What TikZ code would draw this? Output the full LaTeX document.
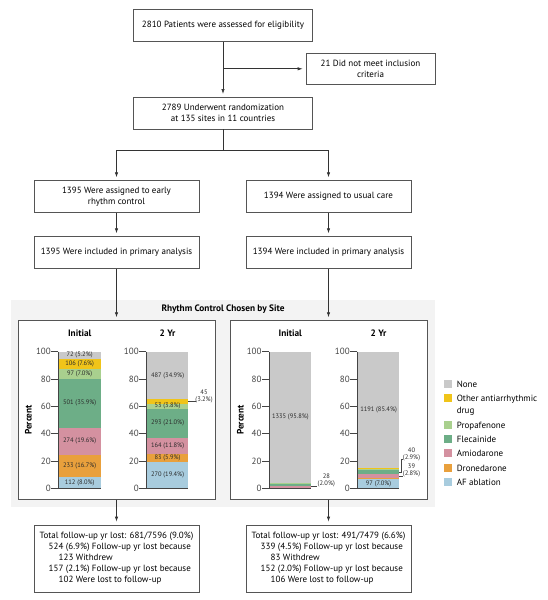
\documentclass[tikz,border=0pt]{standalone}
\usepackage{fontspec}
\setmainfont{PT Sans}
\usetikzlibrary{arrows.meta}
\definecolor{cnone}{HTML}{C9C9C9}
\definecolor{cother}{HTML}{F0C419}
\definecolor{cprop}{HTML}{A9D08E}
\definecolor{cflec}{HTML}{6DAE87}
\definecolor{camio}{HTML}{D491A0}
\definecolor{cdron}{HTML}{E9A03C}
\definecolor{cabl}{HTML}{A8CCDE}
\definecolor{boxc}{HTML}{555555}
\definecolor{linec}{HTML}{333333}
\definecolor{axc}{HTML}{444444}
\definecolor{labc}{HTML}{2A2A2A}
\definecolor{panelc}{HTML}{F3F3F3}
\newcommand\fnine{\fontsize{9}{11}\selectfont}
\newcommand\fbot{\fontsize{9}{11}\selectfont}
\newcommand\fsml{\fontsize{6.5}{7.5}\selectfont}
\newcommand\faxis{\fontsize{9}{10}\selectfont}
\newcommand\ftitle{\fontsize{9.3}{11}\selectfont}
% bar segment: left x, from %, to %, colour
\newcommand\barseg[4]{\fill[#4] ({#1},{488.3-1.366*(#2)}) rectangle ({#1+41.7},{488.3-1.366*(#3)});}
% bar label: left x, centre %, text
\newcommand\barlab[3]{\node[blab] at ({#1+20.85},{488.3-1.366*(#2)}) {#3};}
% axis: axis x
\newcommand\chartaxis[1]{%
  \draw[axl] (#1,351.7) -- (#1,488.3) -- ({#1+42.2},488.3);
  \foreach \v in {0,20,40,60,80,100} {%
    \draw[axl] ({#1-7},{488.3-1.366*\v}) -- (#1,{488.3-1.366*\v});
    \node[alab,anchor=east] at ({#1-7.3},{488.3-1.366*\v}) {\v};
  }%
}
\begin{document}
\begin{tikzpicture}[x=1pt,y=-1pt,
  fbox/.style={draw=boxc, line width=0.7pt, fill=white, minimum height=32pt, inner sep=0pt, align=center, font=\fnine},
  arr/.style={draw=linec, line width=0.7pt, -{Latex[length=5pt,width=3.4pt]}, shorten >=3pt},
  cbox/.style={draw=boxc, line width=0.8pt, fill=white, minimum width=197pt, minimum height=178.6pt, inner sep=0pt},
  axl/.style={draw=axc, line width=0.6pt},
  alab/.style={font=\faxis, inner sep=0pt, text=axc},
  blab/.style={font=\fsml, inner sep=0pt, text=labc, align=center},
  ttl/.style={font=\ftitle\bfseries, inner sep=0pt},
  leadl/.style={draw=axc, line width=0.5pt},
  legt/.style={font=\fnine, anchor=base west, inner sep=0pt},
]
\useasboundingbox (0,0) rectangle (547,600);

% flow chart
\node[fbox, minimum width=178.6pt] (b1) at (223,25.3) {2810 Patients were assessed for eligibility};
\node[fbox, minimum width=129pt, minimum height=31pt] (ex) at (370.5,68.8) {21 Did not meet inclusion\\criteria};
\node[fbox, minimum width=178.6pt, minimum height=31.7pt] (b2) at (223,113.2) {2789 Underwent randomization\\at 135 sites in 11 countries};
\node[fbox, minimum width=165pt] (b3L) at (116.5,196.7) {1395 Were assigned to early\\rhythm control};
\node[fbox, minimum width=165pt] (b3R) at (328.5,196.7) {1394 Were assigned to usual care};
\node[fbox, minimum width=165pt] (b4L) at (116.5,252.7) {1395 Were included in primary analysis};
\node[fbox, minimum width=165pt] (b4R) at (328.5,252.7) {1394 Were included in primary analysis};

\draw[arr] (b1.south) -- (b2.north);
\draw[arr] (b1.south |- ex.west) -- (ex.west);
\coordinate (sp) at (223,150);
\draw[arr] (b2.south) -- (sp) -| (b3L.north);
\draw[arr] (sp) -| (b3R.north);
\draw[arr] (b3L.south) -- (b4L.north);
\draw[arr] (b3R.south) -- (b4R.north);

% panel
\fill[panelc] (10.5,300) rectangle (435,507);
\node[ttl] (ptitle) at (223,309.5) {Rhythm Control Chosen by Site};
\node[cbox] (cbL) at (116.5,410.0) {};
\node[cbox] (cbR) at (328.5,410.0) {};
\draw[arr] (b4L.south) -- (cbL.north);
\draw[arr] (b4R.south) -- (cbR.north);

% titles
\node[ttl] (tLi) at (79.7,333.3) {Initial};
\node[ttl] (tL2) at (167.5,333.3) {2 Yr};
\node[ttl] (tRi) at (290.3,333.3) {Initial};
\node[ttl] (tR2) at (378.5,333.3) {2 Yr};
\node[ttl, rotate=90] (pL) at (28.3,420) {Percent};
\node[ttl, rotate=90] (pR) at (240.3,420) {Percent};

% left initial bar
\barseg{58.8}{0}{8.0}{cabl}
\barseg{58.8}{8.0}{24.7}{cdron}
\barseg{58.8}{24.7}{44.3}{camio}
\barseg{58.8}{44.3}{80.2}{cflec}
\barseg{58.8}{80.2}{87.2}{cprop}
\barseg{58.8}{87.2}{94.8}{cother}
\barseg{58.8}{94.8}{100}{cnone}
\chartaxis{58.3}
\barlab{58.8}{97.4}{72 (5.2\%)}
\barlab{58.8}{91.0}{106 (7.6\%)}
\barlab{58.8}{83.7}{97 (7.0\%)}
\barlab{58.8}{62.25}{501 (35.9\%)}
\barlab{58.8}{34.5}{274 (19.6\%)}
\barlab{58.8}{16.35}{233 (16.7\%)}
\barlab{58.8}{4.0}{112 (8.0\%)}

% left 2 yr bar
\barseg{146.7}{0}{19.4}{cabl}
\barseg{146.7}{19.4}{25.3}{cdron}
\barseg{146.7}{25.3}{37.1}{camio}
\barseg{146.7}{37.1}{58.1}{cflec}
\barseg{146.7}{58.1}{61.9}{cprop}
\barseg{146.7}{61.9}{65.1}{cother}
\barseg{146.7}{65.1}{100}{cnone}
\chartaxis{146.2}
\barlab{146.7}{82.55}{487 (34.9\%)}
\barlab{146.7}{60.0}{53 (3.8\%)}
\barlab{146.7}{47.6}{293 (21.0\%)}
\barlab{146.7}{31.2}{164 (11.8\%)}
\barlab{146.7}{22.35}{83 (5.9\%)}
\barlab{146.7}{9.7}{270 (19.4\%)}
\draw[leadl] (188.4,401.3) -- (196.2,401.3);
\node[blab] (l45) at (204,396.3) {45\\[-0.3pt](3.2\%)};

% right initial bar
\barseg{269.5}{0}{0.3}{cabl}
\barseg{269.5}{0.3}{0.5}{cdron}
\barseg{269.5}{0.5}{1.7}{camio}
\barseg{269.5}{1.7}{3.7}{cflec}
\barseg{269.5}{3.7}{4.2}{cprop}
\barseg{269.5}{4.2}{100}{cnone}
\chartaxis{269}
\barlab{269.5}{52.1}{1335 (95.8\%)}
\draw[leadl] (311.2,486.4) -- (317.2,486.4);
\node[blab] (l28) at (326.3,480.4) {28\\[-0.3pt](2.0\%)};

% right 2 yr bar
\barseg{357.7}{0}{7.0}{cabl}
\barseg{357.7}{7.0}{7.5}{cdron}
\barseg{357.7}{7.5}{10.3}{camio}
\barseg{357.7}{10.3}{13.2}{cflec}
\barseg{357.7}{13.2}{14.1}{cprop}
\barseg{357.7}{14.1}{14.6}{cother}
\barseg{357.7}{14.6}{100}{cnone}
\chartaxis{357.2}
\barlab{357.7}{57.3}{1191 (85.4\%)}
\barlab{357.7}{3.5}{97 (7.0\%)}
\draw[leadl] (399.4,472.3) -- (401.3,472.3) -- (401.3,459.2) -- (402.6,459.2);
\node[blab] (l40) at (411.5,454.3) {40\\[-0.3pt](2.9\%)};
\draw[leadl] (399.4,476.3) -- (402.6,476.3);
\node[blab] (l39) at (411.5,470.6) {39\\[-0.3pt](2.8\%)};

% legend
\fill[cnone]  (444.3,380.3) rectangle (452.3,388.3);
\fill[cother] (444.3,394.3) rectangle (452.3,402.3);
\fill[cprop]  (444.3,421)   rectangle (452.3,429);
\fill[cflec]  (444.3,435.3) rectangle (452.3,443.3);
\fill[camio]  (444.3,449.3) rectangle (452.3,457.3);
\fill[cdron]  (444.3,464)   rectangle (452.3,472);
\fill[cabl]   (444.3,478.3) rectangle (452.3,486.3);
\node[legt] (g1) at (456.6,387.5) {None};
\node[legt] (g2) at (456.6,401.5) {Other antiarrhythmic};
\node[legt] (g2b) at (456.6,413.9) {drug};
\node[legt] (g3) at (456.6,428.2) {Propafenone};
\node[legt] (g4) at (456.6,442.5) {Flecainide};
\node[legt] (g5) at (456.6,456.5) {Amiodarone};
\node[legt] (g6) at (456.6,471.2) {Dronedarone};
\node[legt] (g7) at (456.6,485.5) {AF ablation};

% bottom boxes
\node[fbox, minimum width=165pt, minimum height=67pt, align=left, font=\fbot] (b5L) at (116.5,558.5)
 {Total follow-up yr lost: 681/7596 (9.0\%)\\
  \hspace*{9pt}524 (6.9\%) Follow-up yr lost because\\
  \hspace*{19pt}123 Withdrew\\
  \hspace*{9pt}157 (2.1\%) Follow-up yr lost because\\
  \hspace*{19pt}102 Were lost to follow-up};
\node[fbox, minimum width=165pt, minimum height=67pt, align=left, font=\fbot] (b5R) at (328.5,558.5)
 {Total follow-up yr lost: 491/7479 (6.6\%)\\
  \hspace*{9pt}339 (4.5\%) Follow-up yr lost because\\
  \hspace*{19pt}83 Withdrew\\
  \hspace*{9pt}152 (2.0\%) Follow-up yr lost because\\
  \hspace*{19pt}106 Were lost to follow-up};
\draw[arr] (cbL.south) -- (b5L.north);
\draw[arr] (cbR.south) -- (b5R.north);
\end{tikzpicture}
\end{document}
